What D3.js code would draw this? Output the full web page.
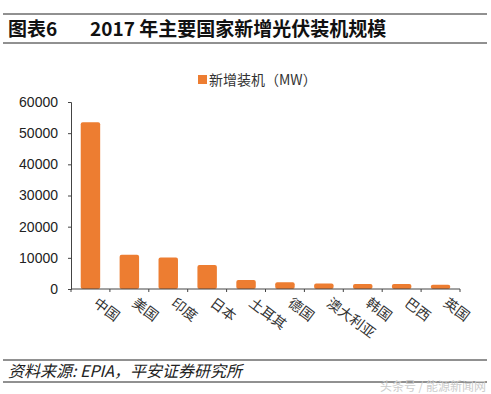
<!DOCTYPE html>
<html>
<head>
<meta charset="utf-8">
<script src="https://cdn.jsdelivr.net/npm/d3@7"></script>
<style>
  body { margin: 0; background: #fff; }
  svg { display: block; }
</style>
</head>
<body>
<div id="chart"></div>
<script>
  const countries = ['中国', '美国', '印度', '日本', '土耳其', '德国', '澳大利亚', '韩国', '巴西', '英国'];
  const installed = [53500, 11000, 10100, 7700, 2900, 2200, 1800, 1600, 1600, 1400];
  const yTicks = [0, 10000, 20000, 30000, 40000, 50000, 60000];
  const seriesName = '新增装机（MW）';

  const width = 491, height = 394;
  const margins = {top: 102, right: 31, bottom: 105, left: 71};
  const barColor = '#ed7d31';

  const svg = d3.select('#chart')
    .append('svg')
      .attr('width', width)
      .attr('height', height);

  // header lines + title
  svg.append('line').attr('x1', 3).attr('x2', 487).attr('y1', 14).attr('y2', 14)
    .attr('stroke', '#222').attr('stroke-width', 1);
  svg.append('line').attr('x1', 3).attr('x2', 487).attr('y1', 43).attr('y2', 43)
    .attr('stroke', '#222').attr('stroke-width', 1);
  svg.append('text')
    .attr('x', 8).attr('y', 36)
    .style('font-family', '"Noto Sans CJK SC", sans-serif')
    .style('font-weight', 'bold').style('font-size', '19px').attr('fill', '#111')
    .text('图表6');
  svg.append('text')
    .attr('x', 90).attr('y', 36)
    .style('font-family', '"Noto Sans CJK SC", sans-serif')
    .style('font-weight', 'bold').style('font-size', '19px').attr('fill', '#111')
    .text('2017 年主要国家新增光伏装机规模');

  const xScale = d3.scaleBand()
    .domain(countries)
    .range([margins.left, width - margins.right])
    .paddingInner(0.5)
    .paddingOuter(0.25);

  const yScale = d3.scaleLinear()
    .domain([0, 60000])
    .range([height - margins.bottom, margins.top]);

  // bars
  svg.append('g')
    .selectAll('rect')
    .data(countries.map((c, i) => [c, installed[i]]))
    .join('rect')
      .attr('x', d => xScale(d[0]))
      .attr('y', d => yScale(d[1]))
      .attr('width', xScale.bandwidth())
      .attr('height', d => yScale(0) - yScale(d[1]))
      .attr('rx', 2)
      .attr('fill', d => barColor);

  // y axis
  const yGroup = svg.append('g')
    .attr('transform', `translate(${margins.left}, 0)`)
    .call(d3.axisLeft(yScale).tickValues(yTicks).tickFormat(d3.format('d')).tickSize(3).tickPadding(10));
  yGroup.select('.domain').attr('stroke', '#444');
  yGroup.selectAll('line').attr('stroke', '#444');
  yGroup.selectAll('text')
    .style('font-family', '"Liberation Sans", Arial, sans-serif')
    .style('font-size', '14px').attr('fill', '#222');

  // x axis: ticks between categories
  const y0 = yScale(0);
  const step = xScale.step();
  const xGroup = svg.append('g');
  xGroup.append('line')
    .attr('x1', margins.left).attr('x2', width - margins.right)
    .attr('y1', y0).attr('y2', y0)
    .attr('stroke', '#444');
  const bounds = d3.range(countries.length + 1).map(i => margins.left + i * step);
  xGroup.selectAll('.xt')
    .data(bounds)
    .join('line')
      .attr('class', 'xt')
      .attr('x1', d => d).attr('x2', d => d)
      .attr('y1', y0).attr('y2', y0 + 3)
      .attr('stroke', '#444');
  xGroup.selectAll('.xl')
    .data(countries)
    .join('text')
      .attr('class', 'xl')
      .attr('transform', d => `translate(${xScale(d) + xScale.bandwidth() / 2 + 2}, ${y0 + 16}) rotate(37)`)
      .style('font-family', '"Noto Sans CJK SC", serif')
      .style('font-size', '14px')
      .attr('fill', '#333')
      .text(d => d);

  // legend
  svg.append('rect')
    .attr('x', 198).attr('y', 75).attr('width', 9).attr('height', 9)
    .attr('fill', barColor);
  svg.append('text')
    .attr('x', 209).attr('y', 85)
    .style('font-family', '"Noto Sans CJK SC", sans-serif')
    .style('font-size', '14px').attr('fill', '#333')
    .text(seriesName);

  // footer
  svg.append('line').attr('x1', 3).attr('x2', 487).attr('y1', 360).attr('y2', 360)
    .attr('stroke', '#222').attr('stroke-width', 1);
  svg.append('line').attr('x1', 3).attr('x2', 487).attr('y1', 382).attr('y2', 382)
    .attr('stroke', '#222').attr('stroke-width', 1);
  svg.append('text')
    .attr('x', 8).attr('y', 377)
    .style('font-family', '"Noto Sans CJK SC", sans-serif')
    .style('font-style', 'italic').style('font-size', '16px').attr('fill', '#222')
    .text('资料来源: EPIA，平安证券研究所');
  svg.append('text')
    .attr('x', 486).attr('y', 391)
    .attr('text-anchor', 'end')
    .style('font-family', '"Noto Sans CJK SC", sans-serif')
    .style('font-size', '12px').attr('fill', '#ccc')
    .text('头条号 / 能源新闻网');
</script>
</body>
</html>
